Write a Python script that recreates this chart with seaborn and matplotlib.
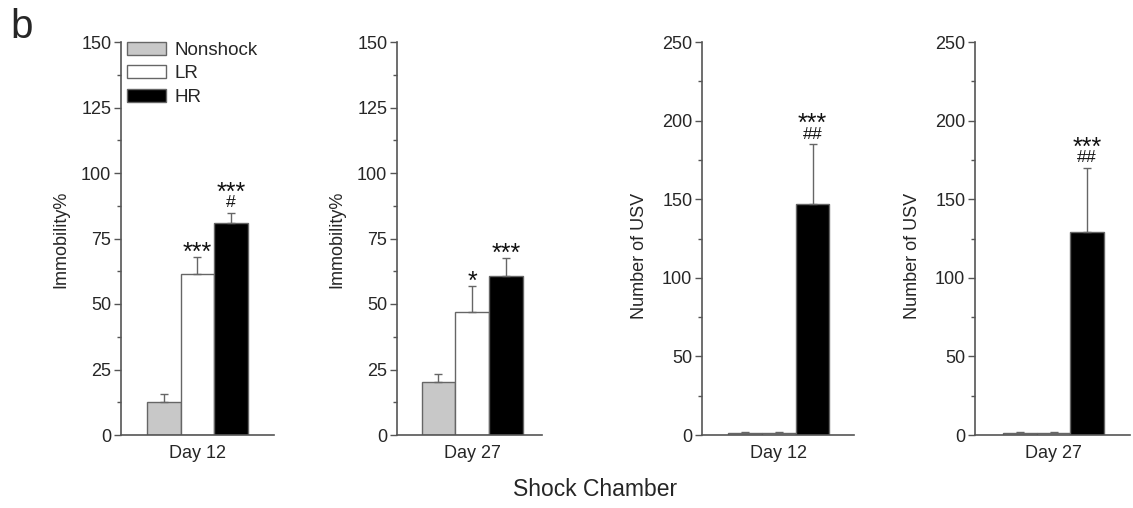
import numpy as np
import pandas as pd
import matplotlib
matplotlib.use("Agg")
import matplotlib.pyplot as plt
from matplotlib.patches import Patch
from matplotlib.ticker import MultipleLocator
import seaborn as sns

# Group order and session labels
groups = ["Nonshock", "LR", "HR"]
days = ["Day 12", "Day 27", "Day 12", "Day 27"]

# Immobility (%) in the shock chamber, mean and SEM
immob_d12 = [12.7, 61.5, 80.8]
immob_d12_sem = [2.8, 6.5, 4.1]
immob_d27 = [20.1, 47.0, 60.6]
immob_d27_sem = [3.2, 10.0, 6.8]

# Number of ultrasonic vocalisations, mean and SEM
usv_d12 = [1.0, 1.0, 147.0]
usv_d12_sem = [0.6, 0.6, 38.0]
usv_d27 = [1.0, 1.0, 129.0]
usv_d27_sem = [0.6, 0.6, 41.0]

# Significance marks per bar: (vs Nonshock, vs LR)
sig_d12_immob = [("", ""), ("***", ""), ("***", "#")]
sig_d27_immob = [("", ""), ("*", ""), ("***", "")]
sig_d12_usv = [("", ""), ("", ""), ("***", "##")]
sig_d27_usv = [("", ""), ("", ""), ("***", "##")]

colors = ["#c8c8c8", "#ffffff", "#000000"]
edge = "#666666"
axis_col = "#555555"
mark_col = "#111111"

sns.set_style("white")
plt.rcParams["font.family"] = ["Liberation Sans", "DejaVu Sans"]
plt.rcParams["mathtext.fontset"] = "custom"
plt.rcParams["mathtext.rm"] = "Liberation Sans"

fig = plt.figure(figsize=(11.33, 5.08), dpi=100)
W, H = 1133.0, 508.0

# (left px, right px, left gap px, right gap px, ylabel right edge px, ylabel centre px)
panels = [
    (121, 274, 26.0, 26.0, 69, 239),
    (397, 542, 24.7, 19.3, 345, 239),
    (702, 854, 26.5, 24.7, 648, 256),
    (975, 1130, 28.3, 26.0, 921, 256),
]
bar_px = 33.8
y0_px, ytop_px = 435, 42

panel_data = [
    (immob_d12, immob_d12_sem, sig_d12_immob, "Immobility%", 150, 25),
    (immob_d27, immob_d27_sem, sig_d27_immob, "Immobility%", 150, 25),
    (usv_d12, usv_d12_sem, sig_d12_usv, "Number of USV", 250, 50),
    (usv_d27, usv_d27_sem, sig_d27_usv, "Number of USV", 250, 50),
]

axes = []
for i, ((lpx, rpx, gl, gr, lab_x, lab_y), (vals, sems, sigs, ylab, ymax, step)) in enumerate(zip(panels, panel_data)):
    ax = fig.add_axes([lpx / W, (H - y0_px) / H, (rpx - lpx) / W, (y0_px - ytop_px) / H])
    axes.append(ax)
    df = pd.DataFrame({"group": groups, "value": vals})
    sns.barplot(data=df, x="group", y="value", hue="group", order=groups,
                hue_order=groups, palette=colors, width=1.0, errorbar=None,
                edgecolor=edge, linewidth=1.0, legend=False, ax=ax)
    xs = np.arange(len(groups))
    ax.errorbar(xs, vals, yerr=[np.zeros(len(vals)), sems], fmt="none",
                ecolor=edge, elinewidth=1.0, capsize=3, capthick=1.0, zorder=1)
    for j, (s1, s2) in enumerate(sigs):
        top = vals[j] + sems[j]
        if s1 and s2:
            # stars over a smaller hash line, kept in one text block
            label = s1 + "\n" + r"$\mathregular{^{" + s2.replace("#", r"\#") + "}}$"
            ax.annotate(label, (xs[j], top), xytext=(0, -6.0), textcoords="offset points",
                        ha="center", va="bottom", fontsize=18, color=mark_col,
                        linespacing=0.6, multialignment="center")
        elif s1:
            ax.annotate(s1, (xs[j], top), xytext=(0, -2.0), textcoords="offset points",
                        ha="center", va="baseline", fontsize=18, color=mark_col)

    ax.set_xlim(-0.5 - gl / bar_px, 2.5 + gr / bar_px)
    ax.set_ylim(0, ymax)
    ax.yaxis.set_major_locator(MultipleLocator(step))
    ax.yaxis.set_minor_locator(MultipleLocator(step / 2))
    ax.set_xticks([1])
    ax.set_xticklabels([days[i]])
    ax.set_xlabel("")
    ax.set_ylabel(ylab, fontsize=13)
    ax.yaxis.set_label_coords((lab_x - lpx) / (rpx - lpx), (y0_px - lab_y) / (y0_px - ytop_px))
    for s in ["top", "right"]:
        ax.spines[s].set_visible(False)
    for s in ["left", "bottom"]:
        ax.spines[s].set_color(axis_col)
        ax.spines[s].set_linewidth(1.2)
    ax.tick_params(axis="y", which="major", direction="out", length=5, width=1.0,
                   color=axis_col, labelsize=13, left=True, pad=2)
    ax.tick_params(axis="y", which="minor", direction="out", length=3, width=1.0,
                   color=axis_col, left=True)
    ax.tick_params(axis="x", which="both", length=0, labelsize=13, pad=7)
    ax.set_facecolor("none")

handles = [Patch(facecolor=c, edgecolor=edge, linewidth=1.0) for c in colors]
axes[0].legend(handles, groups, loc="upper left", bbox_to_anchor=(0.04, 1.0),
               frameon=False, fontsize=13.5, handlelength=2.1, handleheight=0.7,
               labelspacing=0.33, handletextpad=0.45, borderpad=0, borderaxespad=0)

fig.text(10 / W, 1 - 27 / H, "b", fontsize=29, ha="left", va="center")
fig.text(595 / W, 1 - 490 / H, "Shock Chamber", fontsize=16.5, ha="center", va="center")

fig.savefig("out.png", dpi=100)
